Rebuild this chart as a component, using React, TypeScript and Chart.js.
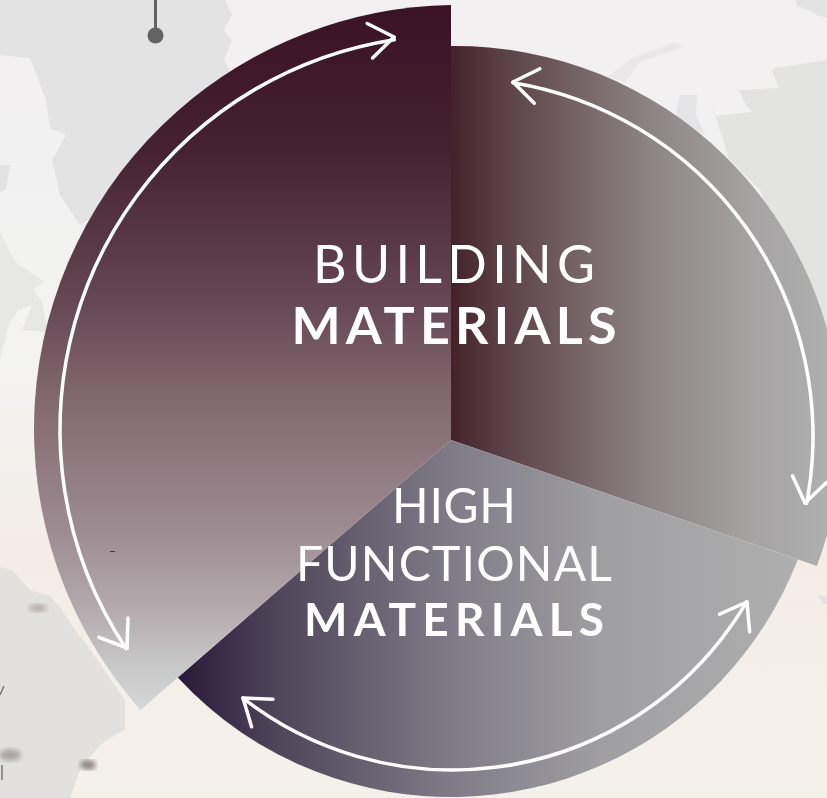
import React, { useEffect, useRef } from "react";
import { Chart, registerables } from "chart.js";

Chart.register(...registerables);

const categories = ["Right segment", "High functional materials", "Building materials"];
const segmentRadii = [386, 372, 424];
const segmentAngles = [109, 120, 131];
const arcShifts = [[4, -8], [0, -15], [7, -11]];

const gradientStops: [number, string][][] = [
  [[0, "#45222a"], [0.13, "#5a4046"], [0.4, "#7d6f70"], [0.56, "#908888"], [0.8, "#a5a3a3"], [1, "#afafaf"]],
  [[0, "#2a1a3a"], [0.16, "#4f4659"], [0.44, "#7f7c87"], [0.68, "#9f9ea1"], [1, "#afafaf"]],
  [[0, "#3a1226"], [0.2, "#452130"], [0.41, "#644552"], [0.56, "#82696f"], [0.74, "#9b8b91"], [0.85, "#b2a8ab"], [0.94, "#c9c9ca"], [1, "#d5d6d7"]],
];
const gradientLines = [
  [452, 0, 827, 0],
  [179, 0, 800, 0],
  [0, 5, 0, 710],
];

const arrows = [
  { cx: 455, cy: 430, r: 395, from: [394, 37], to: [127, 648], ccw: true },
  { cx: 455, cy: 436, r: 358, from: [513, 82], to: [805, 503], ccw: false },
  { cx: 452.5, cy: 428.5, r: 341.5, from: [243, 698], to: [747, 602], ccw: true },
];

const labels = [
  { text: "BUILDING", x: 454, y: 283, size: 52, weight: 400, width: 282 },
  { text: "MATERIALS", x: 454, y: 344, size: 52, weight: 700, width: 325 },
  { text: "HIGH", x: 454, y: 523, size: 48, weight: 400, width: 124 },
  { text: "FUNCTIONAL", x: 454, y: 581, size: 48, weight: 400, width: 316 },
  { text: "MATERIALS", x: 454, y: 636, size: 46, weight: 700, width: 300 },
];

const CANVAS = 900;
const LEFT = 1;
const TOP = -10;

function shiftedDraw(this: any, ctx: CanvasRenderingContext2D, index: number) {
  const { x, y, startAngle, endAngle, outerRadius } = this;
  const [dx, dy] = arcShifts[index];
  const hit = (a: number) => {
    const ux = Math.cos(a), uy = Math.sin(a);
    const d = ux * dx + uy * dy;
    const t = d + Math.sqrt(d * d - dx * dx - dy * dy + outerRadius * outerRadius);
    return Math.atan2(y + uy * t - (y + dy), x + ux * t - (x + dx));
  };
  ctx.save();
  ctx.beginPath();
  ctx.moveTo(x, y);
  ctx.arc(x + dx, y + dy, outerRadius, hit(startAngle), hit(endAngle));
  ctx.closePath();
  ctx.fillStyle = this.options.backgroundColor;
  ctx.fill();
  ctx.restore();
}

const shiftPlugin = {
  id: "shiftPlugin",
  beforeDatasetDraw(chart: any) {
    chart.getDatasetMeta(0).data.forEach((el: any, i: number) => {
      el.draw = (ctx: CanvasRenderingContext2D) => shiftedDraw.call(el, ctx, i);
    });
  },
};

function drawHead(ctx: CanvasRenderingContext2D, tip: number[], dir: number) {
  [-0.62, 0.62].forEach((o) => {
    ctx.beginPath();
    ctx.moveTo(tip[0], tip[1]);
    ctx.lineTo(tip[0] - 30 * Math.cos(dir + o), tip[1] - 30 * Math.sin(dir + o));
    ctx.stroke();
  });
}

const overlayPlugin = {
  id: "overlayPlugin",
  afterDatasetsDraw(chart: any) {
    const ctx: CanvasRenderingContext2D = chart.ctx;
    ctx.save();
    ctx.translate(-LEFT, -TOP);

    ctx.strokeStyle = "#ffffff";
    ctx.lineWidth = 3.5;
    ctx.lineCap = "round";
    ctx.lineJoin = "round";
    arrows.forEach((a) => {
      const s = Math.atan2(a.from[1] - a.cy, a.from[0] - a.cx);
      const e = Math.atan2(a.to[1] - a.cy, a.to[0] - a.cx);
      ctx.beginPath();
      ctx.arc(a.cx, a.cy, a.r, s, e, a.ccw);
      ctx.stroke();
      const sign = a.ccw ? -1 : 1;
      drawHead(ctx, a.from, s - sign * Math.PI / 2);
      drawHead(ctx, a.to, e + sign * Math.PI / 2);
    });

    ctx.fillStyle = "#ffffff";
    ctx.textAlign = "left";
    ctx.textBaseline = "alphabetic";
    labels.forEach((l) => {
      ctx.font = `${l.weight} ${l.size}px Lato`;
      (ctx as any).letterSpacing = "0px";
      const w = ctx.measureText(l.text).width;
      const sp = (l.width - w) / (l.text.length - 1);
      (ctx as any).letterSpacing = `${sp}px`;
      ctx.fillText(l.text, l.x - l.width / 2, l.y);
    });
    (ctx as any).letterSpacing = "0px";

    ctx.fillStyle = "#4a3a40";
    ctx.fillRect(110, 551, 5, 1);
    ctx.restore();
  },
};

export default function App() {
  const ref = useRef<HTMLCanvasElement>(null);
  useEffect(() => {
    const chart = new Chart(ref.current!, {
      type: "polarArea",
      data: {
        labels: categories,
        datasets: [
          {
            data: segmentRadii,
            angle: segmentAngles,
            borderWidth: 0,
            backgroundColor: (c: any) => {
              const i = c.dataIndex ?? 0;
              const [x0, y0, x1, y1] = gradientLines[i];
              const g = c.chart.ctx.createLinearGradient(x0 - LEFT, y0 - TOP, x1 - LEFT, y1 - TOP);
              gradientStops[i].forEach(([p, col]) => g.addColorStop(p, col));
              return g;
            },
          } as any,
        ],
      },
      options: {
        responsive: false,
        animation: false,
        layout: { padding: 0 },
        plugins: { legend: { display: false }, tooltip: { enabled: false } },
        scales: {
          r: {
            display: false,
            min: 0,
            max: 450,
            ticks: { display: false },
            pointLabels: { display: false },
            grid: { display: false },
          },
        },
      },
      plugins: [shiftPlugin, overlayPlugin],
    });
    return () => chart.destroy();
  }, []);

  return (
    <div style={{ position: "fixed", left: 0, top: 0, width: 827, height: 798, overflow: "hidden" }}>
      <svg width={827} height={798} style={{ position: "absolute", left: 0, top: 0 }}>
        <defs>
          <linearGradient id="bg" x1="0" y1="0" x2="0" y2="1">
            <stop offset="0" stopColor="#f2f0f1" />
            <stop offset="0.45" stopColor="#f3f3f1" />
            <stop offset="0.62" stopColor="#f3efeb" />
            <stop offset="0.7" stopColor="#f5ece6" />
            <stop offset="0.82" stopColor="#f4efe9" />
            <stop offset="1" stopColor="#f4f0ea" />
          </linearGradient>
          <filter id="soft"><feGaussianBlur stdDeviation="2.5" /></filter>
        </defs>
        <rect width={827} height={798} fill="url(#bg)" />
        <path d="M0 0H225L232 15 224 30 232 40 224 60 232 75 300 90 120 200 80 225 60 195 52 160 66 135 50 128 46 100 30 58 0 55Z" fill="#e3e3e3" />
        <path d="M0 165H10L6 190 0 192Z" fill="#e3e3e3" />
        <path d="M0 232 15 262 30 272 44 282 33 290 42 302 48 332 22 330 32 305 18 310 10 322 0 358Z" fill="#e7e7e6" />
        <path d="M0 567 12 570 30 590 50 596 62 610 75 630 85 642 125 700 125 730 115 735 100 745 80 770 70 798H0Z" fill="#e3e1dd" />
        <path d="M608 77 632 58 675 42 683 47 640 62 625 82Z" fill="#e9e8e8" />
        <path d="M680 95 697 95 696 115 705 135 675 118Z" fill="#e5e4e6" />
        <path d="M775 68 827 60V430L800 300 760 190 728 158 725 145 718 125 713 105 715 116 740 113 752 112 746 105 739 90 777 88 778 85 772 72Z" fill="#e3e3e2" />
        <path d="M796 0H827V18L817 15 808 10 797 6Z" fill="#e3e3e3" />
        <path d="M817 595 827 597V604L823 603Z" fill="#e3e2df" />
        <ellipse cx="38" cy="608" rx="9" ry="4" fill="#b5b0ab" filter="url(#soft)" />
        <ellipse cx="10" cy="755" rx="11" ry="6" fill="#aaa6a2" filter="url(#soft)" />
        <ellipse cx="88" cy="765" rx="8" ry="5" fill="#8f8985" filter="url(#soft)" />
        <path d="M0 695 4 686" stroke="#777" strokeWidth="1.5" fill="none" />
        <path d="M2 765V780" stroke="#777" strokeWidth="1.5" fill="none" />
        <path d="M155.5 0V30" stroke="#636363" strokeWidth="3" />
        <circle cx="155.5" cy="35.5" r="8" fill="#636363" />
      </svg>
      <canvas
        ref={ref}
        width={CANVAS}
        height={CANVAS}
        style={{ position: "absolute", left: LEFT, top: TOP }}
      />
    </div>
  );
}
